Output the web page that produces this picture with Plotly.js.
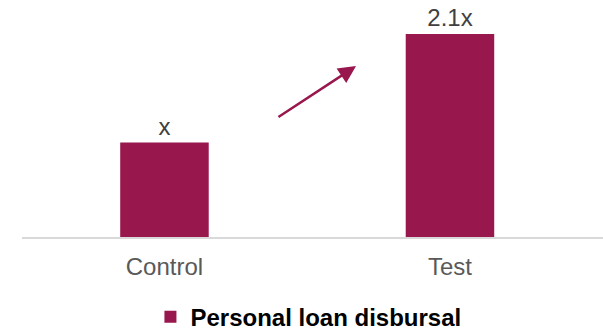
<!DOCTYPE html>
<html>
<head>
<meta charset="utf-8">
<script src="https://cdn.plot.ly/plotly-3.0.1.min.js"></script>
<style>html,body{margin:0;padding:0;background:#fff;}#chart{width:603px;height:331px;}</style>
</head>
<body>
<div id="chart"></div>
<script>
const categories = ["Control", "Test"];
const values = [1, 2.15];
const valueLabels = ["x", "2.1x"];
const seriesName = "Personal loan disbursal";
const barColor = "#98174D";

const trace = {
  type: "bar",
  x: categories,
  y: values,
  name: seriesName,
  text: valueLabels,
  textposition: "outside",
  cliponaxis: false,
  textfont: {family: "Liberation Sans, Arial, sans-serif", size: 24, color: "#404040"},
  marker: {color: barColor},
  width: 0.31,
  showlegend: true
};

const layout = {
  width: 603, height: 331,
  margin: {l: 22, r: 0, t: 0, b: 94},
  paper_bgcolor: "#fff", plot_bgcolor: "#fff",
  font: {family: "Liberation Sans, Arial, sans-serif"},
  xaxis: {
    type: "category",
    range: [-0.499, 1.536],
    showline: true, linecolor: "#d9d9d9", linewidth: 1.5,
    showgrid: false, zeroline: false, ticks: "",
    tickfont: {size: 24, color: "#595959"},
    ticklabelstandoff: 8,
    automargin: false
  },
  yaxis: {range: [0, 2.51], visible: false, showgrid: false, zeroline: false},
  showlegend: true,
  legend: {
    orientation: "h", xref: "paper", x: 0.493, xanchor: "center",
    yref: "container", y: 0.042, yanchor: "middle",
    font: {size: 24, color: "#000", family: "Liberation Sans, Arial, sans-serif", weight: "bold"},
    itemwidth: 30
  },
  annotations: [{
    x: 0.671, y: 1.81, ax: 0.394, ay: 1.26,
    xref: "x", yref: "y", axref: "x", ayref: "y",
    text: "", showarrow: true, arrowhead: 2, arrowsize: 1.4, arrowwidth: 2.5,
    arrowcolor: barColor
  }]
};

Plotly.newPlot("chart", [trace], layout, {displayModeBar: false, staticPlot: true});
</script>
</body>
</html>
